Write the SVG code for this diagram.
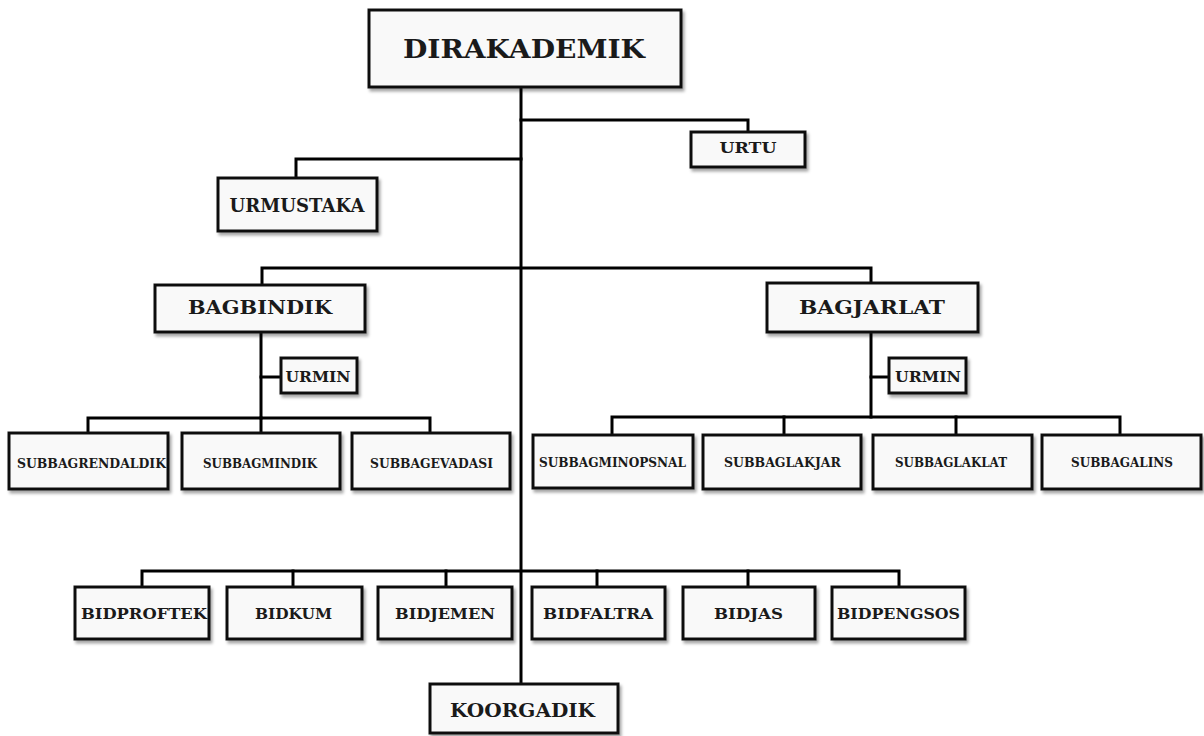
<svg xmlns="http://www.w3.org/2000/svg" width="1204" height="736" viewBox="0 0 1204 736">
<defs>
<filter id="sh" x="-10%" y="-20%" width="120%" height="150%">
<feDropShadow dx="2" dy="3" stdDeviation="1.5" flood-color="#000" flood-opacity="0.35"/>
</filter>
<style>
.box{fill:#f9f9f9;stroke:#111;stroke-width:3;filter:url(#sh)}
.t{font-family:"DejaVu Serif","Liberation Serif",serif;font-weight:bold;fill:#1a1a1a;text-anchor:middle}
.c{fill:none;stroke:#000;stroke-width:3;stroke-linejoin:miter;stroke-linecap:square}
</style>
</defs>
<rect width="1204" height="736" fill="#fff"/>
<g id="connectors">
<path class="c" d="M521 87V684"/>
<path class="c" d="M521 120H748V132"/>
<path class="c" d="M521 159H296V178"/>
<path class="c" d="M262 285V268H871V283"/>
<path class="c" d="M261 332V418"/>
<path class="c" d="M261 377H281"/>
<path class="c" d="M88 433V418H430V433"/>
<path class="c" d="M261 418V433"/>
<path class="c" d="M871 332V417"/>
<path class="c" d="M871 377H889"/>
<path class="c" d="M612 435V417H1120V435"/>
<path class="c" d="M784 417V435"/>
<path class="c" d="M956 417V435"/>
<path class="c" d="M142 587V571H899V587"/>
<path class="c" d="M293 571V587"/>
<path class="c" d="M446 571V587"/>
<path class="c" d="M597 571V587"/>
<path class="c" d="M748 571V587"/>
</g>
<g id="dirakademik"><rect class="box" x="369" y="10" width="312" height="77"/><text class="t" x="524" y="58" font-size="26" textLength="242" lengthAdjust="spacingAndGlyphs">DIRAKADEMIK</text></g>
<g id="urtu"><rect class="box" x="691" y="132" width="114" height="35"/><text class="t" x="748" y="153" font-size="15" textLength="57" lengthAdjust="spacingAndGlyphs">URTU</text></g>
<g id="urmustaka"><rect class="box" x="218" y="178" width="159" height="53"/><text class="t" x="297" y="212" font-size="18" textLength="135" lengthAdjust="spacingAndGlyphs">URMUSTAKA</text></g>
<g id="bagbindik"><rect class="box" x="155" y="285" width="210" height="47"/><text class="t" x="260" y="314" font-size="18" textLength="144" lengthAdjust="spacingAndGlyphs">BAGBINDIK</text></g>
<g id="bagjarlat"><rect class="box" x="767" y="283" width="211" height="49"/><text class="t" x="872" y="314" font-size="18" textLength="146" lengthAdjust="spacingAndGlyphs">BAGJARLAT</text></g>
<g id="urmin-l"><rect class="box" x="281" y="358" width="76" height="35"/><text class="t" x="318" y="382" font-size="15" textLength="65" lengthAdjust="spacingAndGlyphs">URMIN</text></g>
<g id="urmin-r"><rect class="box" x="889" y="358" width="77" height="35"/><text class="t" x="928" y="382" font-size="15" textLength="66" lengthAdjust="spacingAndGlyphs">URMIN</text></g>
<g id="subbagrendaldik"><rect class="box" x="9" y="433" width="159" height="56"/><text class="t" x="91.5" y="468" font-size="12.5" textLength="149" lengthAdjust="spacingAndGlyphs">SUBBAGRENDALDIK</text></g>
<g id="subbagmindik"><rect class="box" x="182" y="433" width="158" height="56"/><text class="t" x="260" y="468" font-size="12.5" textLength="114" lengthAdjust="spacingAndGlyphs">SUBBAGMINDIK</text></g>
<g id="subbagevadasi"><rect class="box" x="352" y="433" width="158" height="56"/><text class="t" x="431.5" y="468" font-size="12.5" textLength="123" lengthAdjust="spacingAndGlyphs">SUBBAGEVADASI</text></g>
<g id="subbagminopsnal"><rect class="box" x="533" y="435" width="160" height="53"/><text class="t" x="612.5" y="467" font-size="12.5" textLength="147" lengthAdjust="spacingAndGlyphs">SUBBAGMINOPSNAL</text></g>
<g id="subbaglakjar"><rect class="box" x="703" y="435" width="158" height="54"/><text class="t" x="782.5" y="467" font-size="12.5" textLength="117" lengthAdjust="spacingAndGlyphs">SUBBAGLAKJAR</text></g>
<g id="subbaglaklat"><rect class="box" x="873" y="435" width="159" height="54"/><text class="t" x="951" y="467" font-size="12.5" textLength="112" lengthAdjust="spacingAndGlyphs">SUBBAGLAKLAT</text></g>
<g id="subbagalins"><rect class="box" x="1042" y="435" width="159" height="54"/><text class="t" x="1122" y="467" font-size="12.5" textLength="102" lengthAdjust="spacingAndGlyphs">SUBBAGALINS</text></g>
<g id="bidproftek"><rect class="box" x="75" y="587" width="134" height="52"/><text class="t" x="144" y="619" font-size="14" textLength="126" lengthAdjust="spacingAndGlyphs">BIDPROFTEK</text></g>
<g id="bidkum"><rect class="box" x="227" y="587" width="135" height="52"/><text class="t" x="293.5" y="619" font-size="14" textLength="77" lengthAdjust="spacingAndGlyphs">BIDKUM</text></g>
<g id="bidjemen"><rect class="box" x="378" y="587" width="134" height="52"/><text class="t" x="445" y="619" font-size="14" textLength="100" lengthAdjust="spacingAndGlyphs">BIDJEMEN</text></g>
<g id="bidfaltra"><rect class="box" x="532" y="587" width="133" height="52"/><text class="t" x="598" y="619" font-size="14" textLength="110" lengthAdjust="spacingAndGlyphs">BIDFALTRA</text></g>
<g id="bidjas"><rect class="box" x="683" y="587" width="132" height="52"/><text class="t" x="748.5" y="619" font-size="14" textLength="69" lengthAdjust="spacingAndGlyphs">BIDJAS</text></g>
<g id="bidpengsos"><rect class="box" x="832" y="587" width="133" height="52"/><text class="t" x="898.5" y="619" font-size="14" textLength="123" lengthAdjust="spacingAndGlyphs">BIDPENGSOS</text></g>
<g id="koorgadik"><rect class="box" x="430" y="684" width="188" height="49"/><text class="t" x="522.5" y="717" font-size="19" textLength="145" lengthAdjust="spacingAndGlyphs">KOORGADIK</text></g>
</svg>
